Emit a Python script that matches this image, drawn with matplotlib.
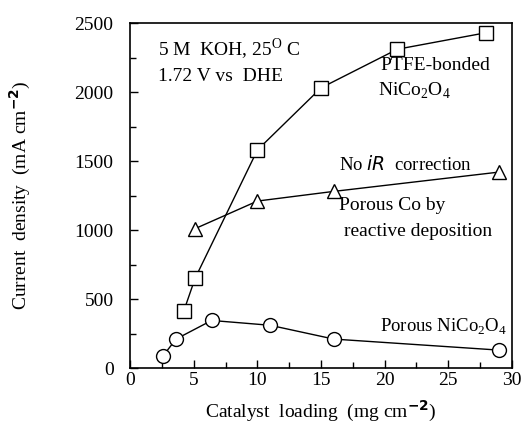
import matplotlib
matplotlib.use('Agg')
import matplotlib.pyplot as plt
from matplotlib.ticker import MultipleLocator

plt.rcParams['font.family'] = ['Liberation Serif', 'DejaVu Serif']
plt.rcParams['mathtext.fontset'] = 'custom'
plt.rcParams['mathtext.rm'] = 'Liberation Serif'

# PTFE-bonded NiCo2O4 (squares)
ptfe_x = [4.2, 5.1, 10, 15, 21, 28]
ptfe_y = [410, 650, 1580, 2030, 2310, 2430]
# Porous Co by reactive deposition (triangles)
co_x = [5.1, 10, 16, 29]
co_y = [1010, 1210, 1280, 1420]
# Porous NiCo2O4 (circles)
por_x = [2.6, 3.6, 6.4, 11, 16, 29]
por_y = [90, 210, 345, 310, 210, 130]

fig = plt.figure(figsize=(5.25, 4.26), dpi=100)
ax = fig.add_axes([0.248, 0.136, 0.727, 0.81])

style = dict(color='black', lw=1, mfc='white', mec='black', mew=1, ms=10)
ax.plot(ptfe_x, ptfe_y, marker='s', **style)
ax.plot(co_x, co_y, marker='^', **style)
ax.plot(por_x, por_y, marker='o', **style)

ax.set_xlim(0, 30)
ax.set_ylim(0, 2500)
ax.xaxis.set_major_locator(MultipleLocator(5))
ax.xaxis.set_minor_locator(MultipleLocator(2.5))
ax.yaxis.set_major_locator(MultipleLocator(500))
ax.yaxis.set_minor_locator(MultipleLocator(250))
ax.tick_params(which='both', direction='in', labelsize=14)
ax.tick_params(which='major', length=6, width=1)
ax.tick_params(which='minor', length=4, width=1)
ax.tick_params(axis='x', pad=3)
ax.tick_params(axis='y', pad=12)
for s in ax.spines.values():
    s.set_linewidth(1.2)

ax.set_xlabel('Catalyst  loading  (mg cm$^{\\mathbf{-2}}$)', fontsize=14, labelpad=7)
ax.set_ylabel('Current  density  (mA cm$^{\\mathbf{-2}}$)', fontsize=14, labelpad=30)

ax.text(2.2, 2310, '5 M  KOH, 25$^{\\mathrm{O}}$ C', fontsize=14, va='center')
ax.text(2.2, 2115, '1.72 V vs  DHE', fontsize=14, va='center')
ax.text(19.7, 2195, 'PTFE-bonded', fontsize=14, va='center')
ax.text(19.5, 2010, 'NiCo$_2$O$_4$', fontsize=14, va='center')
ax.text(16.4, 1475, 'No $\\it{iR}$  correction', fontsize=13.5, va='center')
ax.text(16.4, 1180, 'Porous Co by', fontsize=14, va='center')
ax.text(16.8, 990, 'reactive deposition', fontsize=14, va='center')
ax.text(19.6, 300, 'Porous NiCo$_2$O$_4$', fontsize=13.5, va='center')

fig.savefig('out.png', dpi=100)
